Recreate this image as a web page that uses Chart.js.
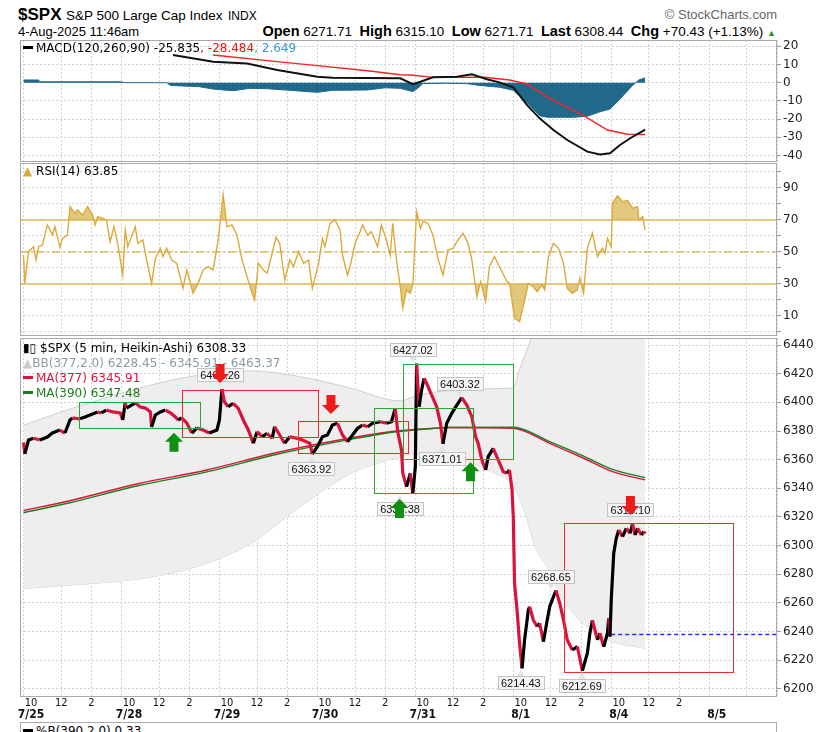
<!DOCTYPE html>
<html>
<head>
<meta charset="utf-8">
<title>$SPX 5 min</title>
<script src="https://cdn.jsdelivr.net/npm/chart.js@4.4.1/dist/chart.umd.min.js"></script>
<style>
  body { margin: 0; background: #fff; }
  #page { position: relative; width: 821px; height: 732px; overflow: hidden; font-family: "Liberation Sans", Arial, sans-serif; color: #000; }
  canvas { position: absolute; left: 0; }
  .t { position: absolute; white-space: nowrap; }
  .leg { position: absolute; left: 23px; font: 12px "DejaVu Sans", Verdana, sans-serif; white-space: nowrap; z-index: 2; }
  .dash { display: inline-block; width: 10px; height: 3px; vertical-align: middle; margin-right: 3px; position: relative; top: -1px; }
  .hd b { font-size: 14.5px; }
</style>
</head>
<body>
<div id="page">
  <div class="t" style="left:18px;top:5px;font-weight:bold;font-size:17px">$SPX</div>
  <div class="t" style="left:66px;top:8px;font-size:13.5px">S&amp;P 500 Large Cap Index</div>
  <div class="t" style="left:228px;top:9px;font-size:12px">INDX</div>
  <div class="t" style="right:44px;top:7px;font-size:13px;color:#666">&copy; StockCharts.com</div>
  <div class="t" style="left:18px;top:24px;font-size:13px">4-Aug-2025 11:46am</div>
  <div class="t hd" style="right:45px;top:23px;font-size:13.5px"><b>Open</b> 6271.71 &nbsp;<b>High</b> 6315.10 &nbsp;<b>Low</b> 6271.71 &nbsp;<b>Last</b> 6308.44 &nbsp;<b>Chg</b> +70.43 (+1.13%) <span style="color:#1a9a1a;font-size:9px">&#9650;</span></div>

  <canvas id="macd" width="821" height="122" style="top:40px"></canvas>
  <div class="leg" style="top:41px"><span class="dash" style="background:#000"></span>MACD(120,260,90) -25.835<span style="color:#f01010">, -28.484</span><span style="color:#3a9ad8">, 2.649</span></div>

  <canvas id="rsi" width="821" height="173" style="top:163px"></canvas>
  <div class="leg" style="top:164px"><span style="color:#d6aa3c">&#9650;</span> RSI(14) 63.85</div>

  <canvas id="price" width="821" height="383" style="top:338px"></canvas>
  <div class="leg" style="top:341px">&#9646;&#9647; $SPX (5 min, Heikin-Ashi) 6308.33</div>
  <div class="leg" style="top:356px;color:#8c9aa6"><span style="color:#c8ccd0">&#9650;</span>BB(377,2.0) 6228.45 - 6345.91 - 6463.37</div>
  <div class="leg" style="top:371px;color:#dc143c"><span class="dash" style="background:#dc143c"></span>MA(377) 6345.91</div>
  <div class="leg" style="top:386px;color:#1d7d1d"><span class="dash" style="background:#1d7d1d"></span>MA(390) 6347.48</div>

  <div style="position:absolute;left:20px;top:722px;width:755px;height:30px;border:1px solid #aaa"></div>
  <div class="leg" style="top:724px"><span class="dash" style="background:#000"></span>%B(390,2.0) 0.33</div>
</div>
<script>
// session layout: 78 five-minute bars per day, x values are bar numbers from 7/25 9:30
const days = ['7/25', '7/28', '7/29', '7/30', '7/31', '8/1', '8/4', '8/5'];
const barsPerDay = 78;
const xMin = -2.8, xMax = 600;
const hourLabels = ['10', '12', '2'];
const hourOffsets = [6, 30, 54];
const gridOffsets = [0, 30, 54];

const macdTicks = [-40, -30, -20, -10, 0, 10, 20];
const rsiTicks = [0, 10, 20, 30, 40, 50, 60, 70, 80, 90, 100];
const rsiLabelled = [10, 30, 50, 70, 90];
const priceTicks = [6200, 6220, 6240, 6260, 6280, 6300, 6320, 6340, 6360, 6380, 6400, 6420, 6440];

// Heikin-Ashi close path
const priceBars = [0, 1, 4, 8, 13, 19, 23, 29, 33, 37, 39, 45, 49, 53, 59, 62, 66, 71, 77, 79,
  81, 82, 86, 89, 93, 97, 101, 102, 105, 109, 113, 117, 121, 123, 126, 130, 134, 138, 143, 148,
  154, 156, 158, 160, 163, 167, 171, 175, 179, 183, 186, 190, 194, 198, 200, 204, 208, 212, 218, 222,
  228, 230, 234, 238, 242, 246, 250, 254, 258, 262, 266, 270, 274, 278, 284, 289, 293, 296, 298, 301,
  302, 305, 308, 310, 312, 313, 315, 317, 319, 321, 325, 329, 332, 334, 337, 341, 345, 349, 353, 357,
  360, 362, 365, 368, 370, 374, 378, 382, 385, 387, 389, 390, 391, 393, 395, 397, 399, 402, 403, 406,
  409, 411, 414, 417, 419, 422, 424, 427, 430, 433, 437, 441, 445, 449, 451, 453, 457, 459, 462, 465,
  466, 467, 468, 470, 472, 474, 477, 480, 483, 485, 487, 489, 492, 494, 495];
const priceVals = [6372, 6364, 6373.7, 6375, 6373.7, 6375.8, 6378.6, 6380.7, 6378.6, 6387.7, 6389.1, 6388.5, 6389.8, 6391.2, 6393.3, 6392.6, 6394.6, 6393.3, 6392.6, 6387.7,
  6399.7, 6396, 6398.1, 6399.5, 6396.7, 6396, 6393.3, 6382.8, 6391.2, 6393.3, 6394.6, 6392.6, 6389.8, 6387.7, 6389.1, 6385.6, 6378.6, 6382.1, 6380.7, 6378.6,
  6380.7, 6387.7, 6409.3, 6400.4, 6397, 6399.3, 6395.8, 6387.7, 6380.7, 6371.4, 6379.5, 6376, 6378.4, 6374.9, 6383, 6377.2, 6371.4, 6376, 6374.9, 6373.7,
  6371.4, 6363.9, 6369, 6376, 6377.2, 6384.2, 6385.4, 6377.2, 6372.5, 6377.2, 6381.9, 6384.2, 6383, 6385.4, 6386.5, 6385.4, 6386.5, 6395.8, 6379.5, 6366.7,
  6350.5, 6341.1, 6350.5, 6336.4, 6355.1, 6427, 6397, 6408.6, 6416.8, 6413.3, 6405.1, 6397, 6385.4, 6371, 6385.4, 6392.3, 6398.1, 6403.3, 6398.1, 6390,
  6376, 6371.4, 6359.8, 6352.8, 6362.1, 6367.9, 6359.8, 6351.6, 6350.5, 6352.8, 6338.8, 6320, 6273.7, 6255.1, 6231.9, 6214.4, 6234.2, 6255.1, 6257.4, 6248,
  6243.5, 6245.8, 6233, 6248, 6257.4, 6264.4, 6268.7, 6259.8, 6248, 6234.2, 6227.2, 6229.5, 6212.7, 6224.9, 6238.9, 6248, 6234.2, 6238.9, 6229.5, 6238.9,
  6249.3, 6236.5, 6262.1, 6294.7, 6305.1, 6310.9, 6306.3, 6312.1, 6308.6, 6315.1, 6307.4, 6312.1, 6307.4, 6309.8, 6308.3];

// Bollinger band and moving averages
const bbBars = [0, 29, 61, 101, 140, 180, 220, 260, 300, 311, 326, 356, 371, 390, 395, 401, 407, 417, 430, 449, 469, 495];
const bbUpper = [6384, 6393, 6402, 6412, 6419, 6422, 6418, 6410, 6401, 6404, 6407, 6409, 6409.5, 6410, 6423, 6437, 6450, 6461, 6472, 6477, 6470, 6463.37];
const bbLower = [6270, 6272, 6274, 6278, 6286, 6301, 6327, 6350, 6362, 6364, 6363, 6358, 6352, 6342, 6333, 6318, 6300, 6285, 6262, 6243, 6233, 6228.45];
const maBars = [0, 36, 91, 146, 201, 256, 297, 326, 338, 390, 419, 446, 469, 495];
const ma377 = [6324.5, 6331.2, 6343.2, 6352.8, 6364.8, 6374.4, 6380, 6381.9, 6382.4, 6381.9, 6371.4, 6361, 6351.6, 6345.91];
const ma390 = [6323, 6329.8, 6341.8, 6351.5, 6363.6, 6373.5, 6379.5, 6381.8, 6382.5, 6382.6, 6372.6, 6362.5, 6353.2, 6347.48];
const prevClose = 6238;
const prevCloseFrom = 468;

// MACD(120,260,90)
const macdBars = [119, 151, 178, 202, 234, 246, 300, 310, 316, 326, 345, 357, 369, 379, 390, 401, 411, 422, 433, 449, 459, 467, 475, 485, 495];
const macdVals = [15.2, 11.5, 10.6, 7.0, 3.3, 2.7, 2.4, -0.8, 0.5, 3.0, 3.3, 4.6, 1.9, 0.2, -2.5, -12.3, -19.6, -26, -31.5, -37.9, -39.4, -38.8, -34.2, -29.7, -25.835];
const signalBars = [151, 194, 234, 274, 300, 308, 326, 367, 387, 401, 419, 446, 465, 481, 495];
const signalVals = [15.2, 12.1, 9.4, 6.6, 4.4, 4.2, 2.9, 3.0, 1.5, -0.7, -8.6, -18.1, -26, -28.3, -28.484];
const histBars = [0, 12, 13, 77, 81, 114, 117, 140, 152, 167, 180, 194, 212, 234, 246, 274, 288, 300, 310, 314, 318, 336, 353, 363, 379, 390, 401, 411, 417, 438, 449, 459, 467, 475, 485, 490, 495];
const histVals = [1.5, 1.5, 0.5, 0.5, 0, 0, -1.5, -2.2, -3.6, -4.4, -3.1, -3.3, -4.2, -5.3, -4.2, -4, -2.8, -3.1, -4.9, -3, -0.5, -0.3, -0.5, -1.5, -2.5, -4.2, -11, -18.1, -19, -19, -18.4, -16, -14.5, -8.9, -1.5, 1.5, 2.649];

// RSI(14)
const rsiBars = [0, 1, 4, 8, 10, 12, 15, 19, 23, 25, 29, 31, 35, 37, 41, 43, 47, 51, 55, 57,
  59, 63, 66, 69, 72, 75, 79, 81, 83, 86, 89, 91, 95, 98, 102, 105, 109, 111, 114, 118,
  122, 127, 130, 135, 139, 143, 147, 151, 155, 159, 162, 166, 170, 174, 178, 182, 184, 187, 191, 194,
  198, 201, 204, 208, 212, 215, 219, 223, 227, 230, 235, 238, 240, 244, 248, 252, 254, 258, 260, 264,
  268, 270, 274, 277, 282, 285, 289, 292, 294, 297, 300, 302, 305, 308, 310, 313, 316, 318, 322, 326,
  330, 334, 338, 342, 346, 350, 354, 357, 361, 364, 368, 371, 375, 379, 385, 387, 391, 395, 399, 402,
  406, 409, 413, 415, 418, 422, 426, 430, 433, 437, 441, 443, 446, 449, 453, 457, 461, 463, 465, 468,
  469, 473, 477, 481, 485, 489, 490, 493, 495];
const rsiVals = [48.1, 30.4, 50.2, 53.3, 45, 53.3, 54.4, 66.9, 60.6, 65.8, 52.9, 58.5, 60.6, 78.3, 74.2, 76.3, 73.1, 78.3, 73.1, 66.9,
  72.1, 71, 70, 56.5, 65.8, 55.4, 35.6, 63.8, 53.3, 59.6, 65.8, 55.4, 57.5, 45, 30.4, 46, 52.3, 47.1, 52.3, 45,
  42.9, 27.3, 38.8, 24.2, 30.4, 38.8, 40.8, 38.8, 57.5, 85.6, 65.8, 66.9, 60.6, 45, 34.6, 24.2, 20, 42.9, 38.8, 36.7,
  49.2, 59.2, 55.4, 32.5, 45, 40.8, 50.2, 42.9, 45, 27.3, 42.9, 58.5, 53.3, 67.9, 70, 63.8, 48.1, 35.6, 40.8, 55.4,
  62.7, 66.9, 60.6, 62.7, 53.3, 66.9, 57.5, 48.1, 67.9, 45, 28.3, 14.8, 26.3, 24.2, 29.4, 75.2, 64.8, 69, 67.9, 60.6,
  46, 35.6, 51.3, 52.3, 57.5, 61.7, 55.4, 45, 22.1, 31.5, 19, 40.8, 47.1, 40.8, 31.5, 30.4, 8.5, 6.5, 20, 30.4,
  28.3, 25.2, 29.4, 26.3, 47.1, 55.4, 52.3, 42.9, 27.3, 24.2, 26.3, 33.5, 24.2, 52.3, 61.7, 47.1, 52.3, 49.2, 58.5, 53.3,
  80.4, 85, 81.5, 82.1, 77.3, 78.3, 70, 72.1, 63.85];

// chart annotations: [fromBar, toBar, topPrice, bottomPrice, colour]
const zoneBoxes = [
  [44.4, 140.5, 6400.4, 6381.9, 'g'],
  [126, 234.7, 6408.6, 6376, 'r'],
  [218.3, 306.4, 6387.2, 6364.4, 'r'],
  [279.3, 358.1, 6395.8, 6336.5, 'g'],
  [302.4, 389.5, 6426.5, 6360.3, 'g'],
  [430.6, 565.1, 6315.6, 6211.6, 'r']
];
// [bar, tipPrice, direction]
const signalArrows = [
  [156.5, 6413.5, 'down'], [244.8, 6391.9, 'down'], [483.3, 6321.4, 'down'],
  [119.8, 6378.8, 'up'], [299.4, 6332.6, 'up'], [355.9, 6358.2, 'up']
];
// [bar, price, side]
const pivotTags = [
  [156.5, 6409.26, 'above'], [229.3, 6363.92, 'below'], [299.8, 6336.38, 'below'],
  [310, 6427.02, 'above'], [347.5, 6403.32, 'above'], [333.2, 6371.01, 'below'],
  [396, 6214.43, 'below'], [444.7, 6212.69, 'below'], [420, 6268.65, 'above'],
  [483.3, 6315.10, 'above']
];

const pts = (xs, ys) => xs.map((x, i) => ({x, y: ys[i]}));
const dayStarts = days.map((d, i) => i * barsPerDay);
const gridTicks = dayStarts.flatMap(s => gridOffsets.map(o => s + o)).filter(v => v <= xMax);
const tradedStarts = dayStarts.slice(0, 7);
const timeTicks = tradedStarts.flatMap(s => hourOffsets.map(o => s + o));
const timeLabels = tradedStarts.flatMap(() => hourLabels);
const dateTicks = dayStarts.map(s => s + 6);

const numFont = '"DejaVu Sans", Verdana, sans-serif';
const narrowFont = '"DejaVu Sans Condensed", "Liberation Sans Narrow", "Arial Narrow", sans-serif';

const gridX = {
  type: 'linear', min: xMin, max: xMax, weight: 0,
  afterBuildTicks: s => { s.ticks = gridTicks.map(v => ({value: v})); },
  afterFit: s => { s.height = 0; s.paddingLeft = 0; s.paddingRight = 0; },
  ticks: {display: false},
  grid: {color: '#d2d2d2', drawTicks: false},
  border: {display: false, dash: [2, 2]}
};

function yAxis(min, max, ticks, labelled) {
  return {
    position: 'right', min, max,
    afterBuildTicks: s => { s.ticks = ticks.map(v => ({value: v})); },
    afterFit: s => { s.width = 44; s.paddingTop = 0; s.paddingBottom = 0; },
    ticks: {color: '#222', font: {family: numFont, size: 12}, padding: 2, autoSkip: false,
      callback: v => labelled.includes(v) ? String(v) : ''},
    grid: {color: '#d2d2d2', tickLength: 4, tickColor: '#999'},
    border: {display: false, dash: [2, 2]}
  };
}

function labelAxis(ticks, labels, font, height, weight) {
  return {
    type: 'linear', min: xMin, max: xMax, position: 'bottom', weight,
    afterBuildTicks: s => { s.ticks = ticks.map(v => ({value: v})); },
    afterFit: s => { s.height = height; s.paddingLeft = 0; s.paddingRight = 0; },
    ticks: {autoSkip: false, maxRotation: 0, padding: 0, color: '#111', font,
      callback: (v, i) => labels[i]},
    grid: {display: false, drawTicks: false},
    border: {display: false}
  };
}

const frame = {
  id: 'frame',
  afterDraw(chart) {
    const {ctx, chartArea: a} = chart;
    ctx.save();
    ctx.strokeStyle = '#a9a9a9';
    ctx.lineWidth = 1;
    ctx.strokeRect(a.left + 0.5, a.top + 0.5, a.width - 1, a.height - 1);
    ctx.restore();
  }
};

const marks = {
  id: 'marks',
  afterDatasetsDraw(chart) {
    const {ctx} = chart;
    const xs = chart.scales.x, ys = chart.scales.y;
    const a = chart.chartArea;
    ctx.save();
    ctx.beginPath();
    ctx.rect(a.left, a.top, a.width, a.height);
    ctx.clip();

    zoneBoxes.forEach(([b0, b1, p0, p1, c]) => {
      const x0 = Math.round(xs.getPixelForValue(b0)) + 0.5, x1 = Math.round(xs.getPixelForValue(b1)) + 0.5;
      const y0 = Math.round(ys.getPixelForValue(p0)) + 0.5, y1 = Math.round(ys.getPixelForValue(p1)) + 0.5;
      ctx.strokeStyle = c === 'g' ? '#2ea52e' : '#ee2a2a';
      ctx.lineWidth = 1;
      ctx.strokeRect(x0, y0, x1 - x0, y1 - y0);
    });

    ctx.font = '11px "Liberation Sans", Arial, sans-serif';
    ctx.textAlign = 'center';
    ctx.textBaseline = 'middle';
    pivotTags.forEach(([bar, price, side]) => {
      const cx = xs.getPixelForValue(bar), py = ys.getPixelForValue(price);
      const text = price.toFixed(2);
      const w = Math.ceil(ctx.measureText(text).width) + 6, h = 13;
      const top = side === 'above' ? py - 8 - h : py + 8;
      const bx = Math.round(cx - w / 2) + 0.5, by = Math.round(top) + 0.5;
      ctx.strokeStyle = '#c4c4c4';
      ctx.lineWidth = 1;
      ctx.beginPath();
      if (side === 'above') {
        ctx.moveTo(cx - 4, by + h); ctx.lineTo(cx, py - 1); ctx.lineTo(cx + 4, by + h);
      } else {
        ctx.moveTo(cx - 4, by); ctx.lineTo(cx, py + 1); ctx.lineTo(cx + 4, by);
      }
      ctx.closePath();
      ctx.fillStyle = '#e4e4e4';
      ctx.fill();
      ctx.fillStyle = 'rgba(246,246,246,0.95)';
      ctx.fillRect(bx, by, w, h);
      ctx.strokeRect(bx, by, w, h);
      ctx.fillStyle = '#111';
      ctx.fillText(text, cx, by + h / 2 + 0.5);
    });

    signalArrows.forEach(([bar, price, dir]) => {
      const cx = xs.getPixelForValue(bar), ty = ys.getPixelForValue(price);
      const s = dir === 'down' ? -1 : 1;
      ctx.fillStyle = dir === 'down' ? '#ee1b1b' : '#109010';
      ctx.beginPath();
      ctx.moveTo(cx, ty);
      ctx.lineTo(cx + 9, ty + s * 9);
      ctx.lineTo(cx + 4.5, ty + s * 9);
      ctx.lineTo(cx + 4.5, ty + s * 19);
      ctx.lineTo(cx - 4.5, ty + s * 19);
      ctx.lineTo(cx - 4.5, ty + s * 9);
      ctx.lineTo(cx - 9, ty + s * 9);
      ctx.closePath();
      ctx.fill();
    });
    ctx.restore();
  }
};

const base = {
  responsive: false,
  animation: false,
  events: [],
  layout: {padding: {left: 20, right: 0, top: 0, bottom: 0}},
  elements: {point: {radius: 0}},
  plugins: {legend: {display: false}, tooltip: {enabled: false}}
};

new Chart(document.getElementById('macd'), {
  type: 'line',
  data: {datasets: [
    {data: pts(macdBars, macdVals), borderColor: '#111', borderWidth: 2, fill: false},
    {data: pts(signalBars, signalVals), borderColor: '#ff2020', borderWidth: 1.4, fill: false},
    {data: pts(histBars, histVals), borderColor: '#21698a', backgroundColor: '#21698a', borderWidth: 1, fill: 'origin'}
  ]},
  options: {...base, scales: {x: gridX, y: yAxis(-43.57, 23.46, macdTicks, macdTicks)}},
  plugins: [frame]
});

const rsiFill = 'rgba(214,176,70,0.7)';
const rsiSpan = v => [{x: xMin, y: v}, {x: xMax, y: v}];
new Chart(document.getElementById('rsi'), {
  type: 'line',
  data: {datasets: [
    {data: pts(rsiBars, rsiVals), borderColor: '#dcaa3a', borderWidth: 1.4,
      fill: {target: {value: 70}, above: rsiFill, below: 'rgba(0,0,0,0)'}},
    {data: pts(rsiBars, rsiVals), borderWidth: 0, borderColor: 'rgba(0,0,0,0)',
      fill: {target: {value: 30}, above: 'rgba(0,0,0,0)', below: rsiFill}},
    {data: rsiSpan(70), borderColor: '#e4b95e', borderWidth: 1.6, fill: false},
    {data: rsiSpan(30), borderColor: '#e4b95e', borderWidth: 1.6, fill: false},
    {data: rsiSpan(50), borderColor: '#e4b95e', borderWidth: 1.4, borderDash: [8, 3, 2, 3], fill: false}
  ]},
  options: {...base, scales: {x: gridX, y: yAxis(-2.5, 105.6, rsiTicks, rsiLabelled)}},
  plugins: [frame]
});

new Chart(document.getElementById('price'), {
  type: 'line',
  data: {datasets: [
    {data: pts(priceBars, priceVals), borderWidth: 3.2, fill: false, borderJoinStyle: 'miter',
      segment: {borderColor: c => c.p1.parsed.y >= c.p0.parsed.y ? '#000' : '#d8143c'}},
    {data: pts(maBars, ma390), borderColor: '#1d7d1d', borderWidth: 1.4, fill: false, cubicInterpolationMode: 'monotone'},
    {data: pts(maBars, ma377), borderColor: '#dc143c', borderWidth: 1.4, fill: false, cubicInterpolationMode: 'monotone'},
    {data: [{x: prevCloseFrom, y: prevClose}, {x: xMax, y: prevClose}], borderColor: '#2a2aff', borderWidth: 1.5, borderDash: [4, 3], fill: false},
    {data: pts(bbBars, bbUpper), borderColor: '#cfcfcf', borderWidth: 1, backgroundColor: '#eeeeee', fill: '+1', cubicInterpolationMode: 'monotone'},
    {data: pts(bbBars, bbLower), borderColor: '#cfcfcf', borderWidth: 1, fill: false, cubicInterpolationMode: 'monotone'}
  ]},
  options: {...base, scales: {
    x: gridX,
    xt: labelAxis(timeTicks, timeLabels, {family: narrowFont, size: 11}, 11, 1),
    xd: labelAxis(dateTicks, days, {family: narrowFont, size: 12, weight: 'bold'}, 13, 2),
    y: yAxis(6194.4, 6444.9, priceTicks, priceTicks)
  }},
  plugins: [frame, marks]
});
</script>
</body>
</html>
